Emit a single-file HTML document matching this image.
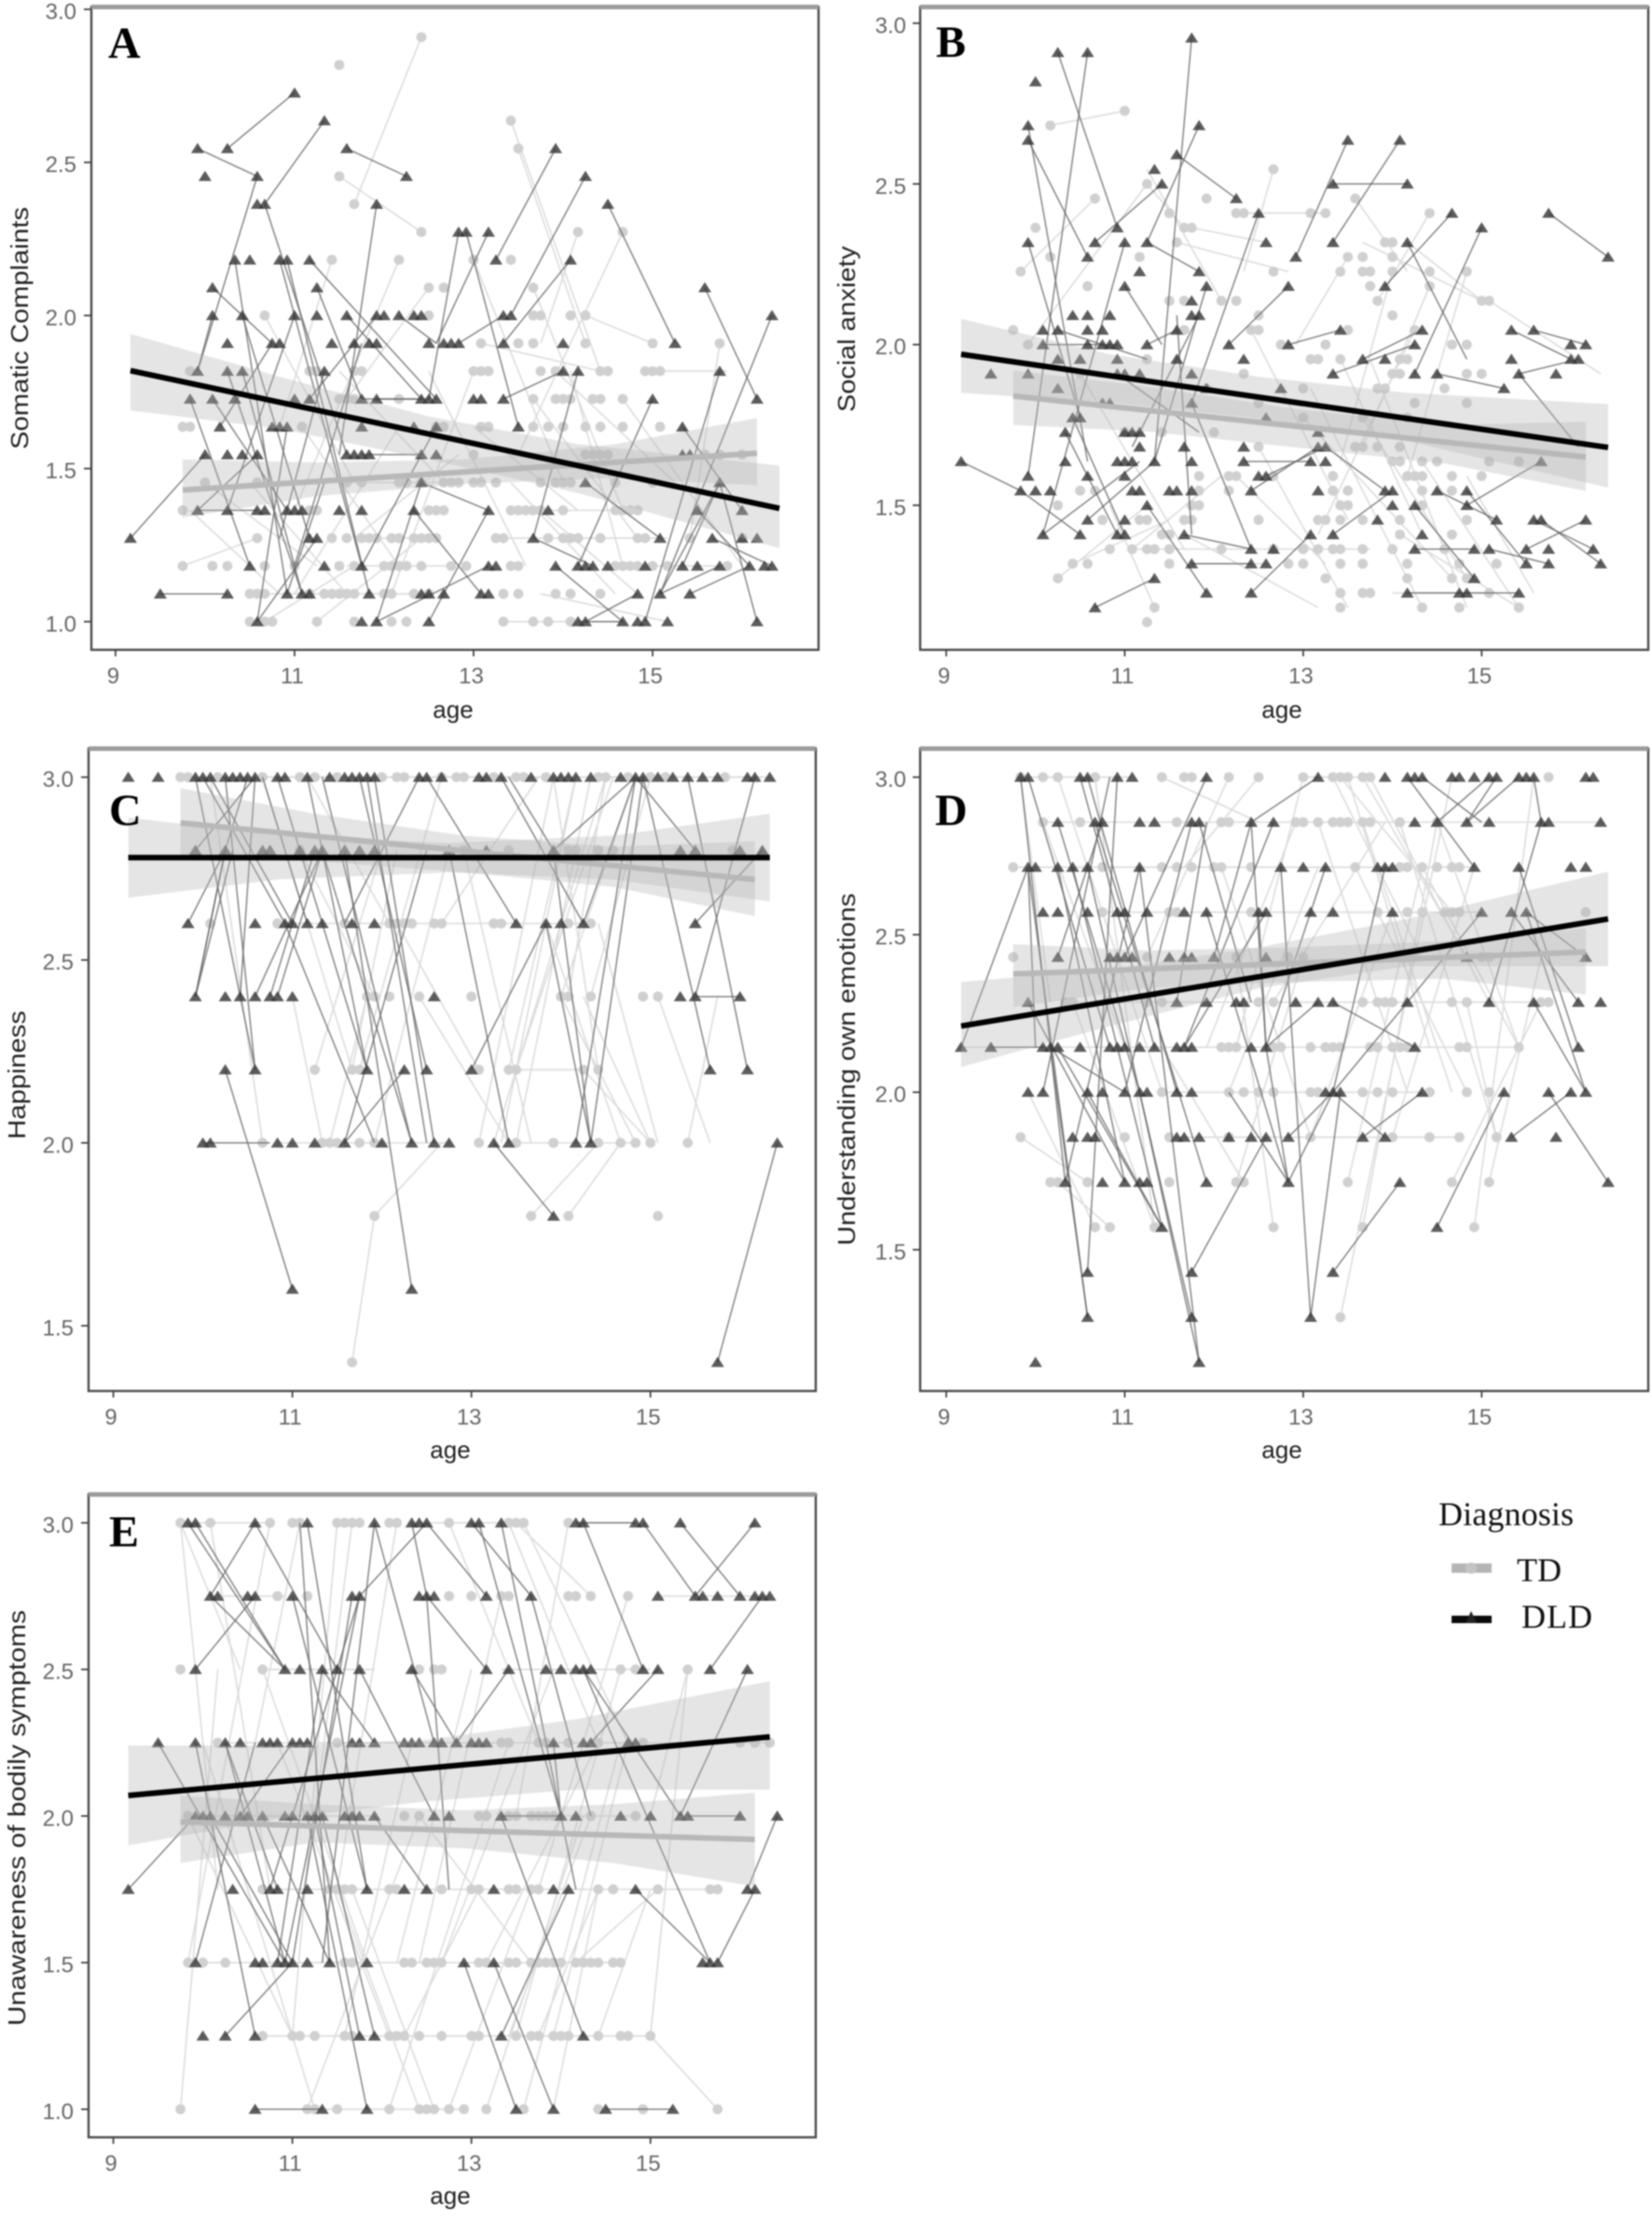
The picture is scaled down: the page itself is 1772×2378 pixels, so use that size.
<!DOCTYPE html>
<html lang="en">
<head>
<meta charset="utf-8">
<title>Emotion scores by age and diagnosis</title>
<style>
html,body{margin:0;padding:0;background:#fff;width:1772px;height:2378px;overflow:hidden}
#figure{position:absolute;left:0;top:0;width:1772px;height:2378px;filter:blur(0.85px)}
text{font-family:"Liberation Sans",sans-serif}
.serif{font-family:"Liberation Serif",serif}
</style>
</head>
<body>
<svg id="figure" xmlns="http://www.w3.org/2000/svg" width="1772" height="2378" viewBox="0 0 1772 2378">
  <g id="panels"></g>
  <g>
    <text class="serif" x="1543" y="1636" font-size="36" fill="#111" textLength="145">Diagnosis</text>
    <rect x="1557" y="1677" width="43" height="10" fill="#b5b5b5"></rect>
    <circle cx="1578" cy="1682" r="6" fill="#c4c4c4"></circle>
    <text class="serif" x="1627" y="1696" font-size="36" fill="#111" textLength="48">TD</text>
    <rect x="1557" y="1733" width="43" height="8" fill="#0a0a0a"></rect>
    <polygon points="1578,1728 1584,1741 1572,1741" fill="#222"></polygon>
    <text class="serif" x="1632" y="1746" font-size="36" fill="#111" textLength="76">DLD</text>
  </g>
</svg>
<script>
// Ages are stored in months, scores as level index k where score = 1 + k * step.
const xTickYears = [9, 11, 13, 15];
const yTicksFull = [1.0, 1.5, 2.0, 2.5, 3.0];
const yTicksShort = [1.5, 2.0, 2.5, 3.0];

/* ---------- Panel A ---------- */
const aDldRows = [[19,[132]],[18,[136]],[17,[119,123,139,167]],[16,[120,127,147,171]],[15,[127,128,143,174]],[14,[154,155,158]],[13,[124,126,130,131,134,159,169]],[12,[121,135,187]],[11,[121,125,132,135,139,143,144,146,148,149,160,161,196]],[10,[123,129,130,137,140,142,143,150,152,153,154,160,168,183]],[9,[119,123,125,136,168,170,189]],[8,[118,121,124,132,134,141,143,149,150,151,156,157,160,180,194]],[7,[122,129,130,131,141,148,151,162,184]],[6,[120,123,125,127,139,140,141,142,149,151,184,185]],[5,[149,171,189]],[4,[119,123,127,128,131,132,133,138,141,148,158,166,186,192]],[3,[110,134,135,164,181,188,192,194]],[2,[126,136,141,158,159,167,170,171,172,174,179,184,186,189,193,195,196]],[1,[114,123,131,133,134,142,149,150,152,157,158,178,181,185]],[0,[127,141,143,150,170,171,176,178,179,182,194]]];
const aTdRows = [[21,[149]],[20,[138]],[18,[161]],[17,[162]],[16,[138]],[15,[140]],[14,[149,170,176]],[13,[137,146,156,161]],[12,[150,152,164]],[11,[128,150,164,165,169,171]],[10,[157,162,164,171,180,189]],[9,[118,134,135,140,141,156,157,158,165,167,173,174,179,180,181]],[8,[138,139,140,146,164,167,168,169,172,173,176]],[7,[117,118,133,151,152,157,158,164,166,168,171,173,176,181]],[6,[156,171,172,173,174,187,189,192]],[5,[120,127,139,141,146,147,149,152,153,154,156,157,159,165,167,168,169,175,180]],[4,[117,134,135,150,151,152,161,162,163,164,165,168,175,176,177,178]],[3,[127,137,139,141,142,143,145,146,148,149,150,151,159,160,166,168,169,170,173,178,179,185,192]],[2,[117,121,123,128,132,138,140,144,145,146,147,149,153,155,161,162,175,176,177,178,180,182,190]],[1,[126,127,128,134,136,137,138,139,140,144,145,148,150,160,162,167,169,173]],[0,[126,128,129,135,140,145,147,160,164,166,169]]];
const aDldLinks = [[110,3,120,6],[114,1,123,1],[119,17,127,16],[123,17,132,19],[128,15,136,18],[139,17,147,16],[127,16,119,9],[128,15,139,6],[143,15,138,6],[124,13,131,1],[130,13,141,2],[131,13,142,1],[134,13,151,8],[121,12,129,10],[135,12,141,8],[119,9,121,11],[125,11,134,3],[132,11,123,4],[139,11,149,8],[143,11,134,8],[146,11,151,10],[154,14,150,8],[155,14,162,7],[158,14,151,10],[159,13,167,17],[161,11,171,16],[160,10,169,13],[154,10,160,11],[174,15,183,10],[187,12,194,8],[196,11,181,1],[180,8,170,2],[160,8,168,9],[189,9,179,0],[189,5,181,1],[184,7,192,4],[171,5,181,3],[164,3,172,2],[167,2,176,0],[170,9,164,3],[158,4,149,5],[149,5,143,0],[148,4,157,1],[118,8,126,2],[125,9,133,1],[121,8,131,4],[131,7,127,0],[136,9,130,3],[122,7,129,10],[123,9,133,1],[143,8,150,8],[141,8,149,8],[141,6,149,6],[119,4,127,4],[119,4,127,6],[141,2,151,7],[132,2,141,10],[143,0,158,2],[150,0,158,4],[170,0,176,0],[178,1,171,0],[181,1,189,2],[185,1,193,2],[184,2,189,5],[186,4,193,2],[188,3,196,2],[194,0,189,5],[127,0,135,3],[131,1,136,5]];
const aTdLinks = [[149,21,140,15],[138,16,149,14],[162,17,171,10],[161,18,173,9],[146,13,132,4],[150,12,139,8],[137,13,130,7],[156,13,168,5],[164,12,176,4],[171,11,180,10],[128,11,140,5],[176,14,162,6],[170,14,165,10],[189,10,185,3],[117,2,127,3],[118,4,130,1],[128,0,140,2],[135,0,149,3],[145,1,156,9],[160,0,176,0],[180,9,190,9],[157,10,173,9],[169,9,176,2],[175,2,190,2],[160,3,182,3],[165,1,182,0],[138,9,152,5],[150,9,163,2],[164,8,178,3],[146,7,132,1],[133,7,146,2],[126,5,139,1],[165,4,178,1],[156,7,170,4],[176,8,192,2],[161,5,175,1],[140,3,154,6],[120,5,135,2],[167,9,183,5],[165,4,178,4],[141,3,151,3],[139,2,153,2],[126,1,150,1],[179,9,181,9],[139,5,154,5]];
const aBandAgesDld = [110,130,150,170,197];
const aBandLoDld = [1.69,1.63,1.53,1.42,1.24];
const aBandHiDld = [1.94,1.80,1.67,1.58,1.51];
const aBandAgesTd = [117,135,155,175,194];
const aBandLoTd = [1.34,1.41,1.45,1.47,1.445];
const aBandHiTd = [1.53,1.52,1.53,1.58,1.665];
const aTrendDld = [110,1.82,197,1.37];
const aTrendTd = [117,1.43,194,1.55];

/* ---------- Panel B ---------- */
const bDldRows = [[43,[141]],[42,[123,127]],[40,[120]],[37,[119,142]],[36,[119,162,169]],[35,[139]],[34,[136]],[33,[137,160,170]],[32,[147]],[31,[150,176,189]],[30,[131,180]],[29,[119,128,132,135,151,160,170]],[28,[127,155,197]],[27,[134,142]],[26,[132,143,154,167]],[25,[141]],[24,[125,127,130,141,142]],[23,[121,123,127,129,139,161,172,184,187]],[22,[121,127,129,130,131,135,146,154,171,192,194]],[21,[123,126,131,139,148,164,167,184,192,193]],[20,[114,119,131,132,134,141,160,171,174,185,190]],[19,[123,143,153,183]],[18,[129,130,141]],[17,[125,126,151]],[16,[124,132,133,134,158]],[15,[134,140,148,158,159]],[14,[110,124,131,132,133,136,141,148,157,159,188]],[13,[119,127,132,150,151]],[12,[118,120,122,133,134,138,139,141,149,158,167,168,174,178]],[11,[135,168,171,178]],[10,[127,132,166,182,187,188,194]],[9,[121,126,131,132,140,157,160,172]],[8,[149,152,171,179,181,186,189,195]],[7,[141,149,151,186,189,196]],[6,[136,179]],[5,[143,149,170,177,178,185]],[4,[128]]];
const bTdRows = [[38,[132]],[37,[122]],[33,[135]],[34,[152]],[32,[128,143,163]],[31,[138,147,148,157,159,173]],[30,[120,140,141]],[29,[139,167,168]],[28,[122,134,162,164,168]],[27,[118,152,161,164,165,168,173,178]],[26,[127,165,173]],[25,[138,140,145,147,166,180,181]],[24,[150,168]],[23,[117,140,149,150,162,171]],[22,[119,153,159,176,178]],[21,[135,157,158,161,169,170]],[20,[126,148,168,169,178,180]],[19,[143,156,166,167,175]],[18,[150,171,178]],[17,[156,164,170]],[16,[132,137,144]],[15,[150,163,164,166,169]],[14,[168,169,172,174,181,185]],[13,[142,146,147,152,160,170,171,172,176,180]],[12,[126,128,142,146,160,162,172,176]],[11,[123,141,142,161,162,172]],[10,[129,134,135,140,141,150,158,159,161,164,169,178]],[9,[137,138,169,176]],[8,[130,133,135,136,138,145,152,156,158,160,161,164,168,175]],[7,[125,127,138,154,156,161,164,170,177,182]],[6,[123,159,170,176,178]],[5,[161,164,165,181]],[4,[136,161,172,177,185]],[3,[135]]];
const bDldLinks = [[123,42,131,30],[127,42,119,13],[141,43,136,14],[142,37,135,29],[119,37,127,14],[119,36,127,28],[139,35,147,32],[137,33,128,29],[162,36,155,28],[169,36,160,29],[160,33,170,33],[150,31,141,18],[176,31,167,26],[189,31,197,28],[180,30,171,20],[170,29,178,21],[132,29,121,9],[135,29,142,27],[119,29,126,17],[132,26,137,22],[143,26,136,14],[154,26,146,22],[123,23,135,21],[121,22,131,22],[135,22,139,23],[154,22,161,23],[160,20,171,22],[164,21,172,23],[174,20,183,19],[184,23,192,21],[187,23,194,22],[185,20,193,21],[185,20,193,15],[110,14,118,12],[118,12,126,9],[125,17,132,9],[124,16,131,9],[127,10,136,14],[141,7,149,7],[140,9,149,8],[143,5,135,11],[149,5,157,9],[141,18,149,8],[149,12,158,15],[151,13,159,15],[159,15,167,12],[160,9,168,12],[171,11,179,6],[171,8,179,8],[170,5,185,5],[178,11,188,14],[174,12,182,10],[186,8,194,10],[178,12,186,7],[181,8,189,7],[187,10,195,8],[188,10,196,7],[128,4,136,6],[148,14,157,14],[121,9,134,14],[139,24,141,9],[142,24,133,15],[131,20,142,16]];
const bTdLinks = [[122,37,132,38],[118,27,128,32],[135,33,140,30],[141,30,151,29],[152,34,148,27],[147,31,159,31],[163,32,170,27],[173,31,166,25],[180,25,164,29],[170,29,180,25],[162,28,155,22],[145,25,135,34],[139,29,154,27],[119,22,135,33],[126,20,140,8],[168,27,161,14],[173,26,164,15],[178,27,170,13],[171,23,158,9],[181,25,196,20],[161,21,172,9],[150,15,162,4],[125,7,138,10],[123,6,135,11],[136,4,130,11],[157,19,172,4],[156,17,176,6],[165,21,178,4],[169,9,185,4],[140,9,158,4],[147,13,159,7],[172,14,185,4],[164,17,178,6],[149,23,162,10],[133,8,145,13],[178,13,187,5],[141,7,151,7],[133,8,165,8],[168,5,181,5]];
const bBandAgesDld = [110,130,150,170,197];
const bBandLoDld = [1.85,1.82,1.77,1.70,1.555];
const bBandHiDld = [2.08,1.97,1.90,1.85,1.815];
const bBandAgesTd = [117,135,155,175,194];
const bBandLoTd = [1.75,1.73,1.68,1.63,1.545];
const bBandHiTd = [1.92,1.87,1.80,1.75,1.76];
const bTrendDld = [110,1.97,197,1.68];
const bTrendTd = [117,1.84,194,1.65];

/* ---------- Panel C ---------- */
const cDldRows = [[10,[110,114,119,120,121,123,124,125,126,127,130,131,134,137,139,140,141,142,143,149,150,152,157,158,160,164,167,168,169,170,172,176,178,179,181,183,185,187,189,193,194,196]],[9,[119,123,128,129,133,135,136,139,141,143,153,158,167,184,186,192,195]],[8,[118,127,131,132,134,136,140,143,162,166,168,171,186]],[7,[119,123,125,127,129,130,132,151,184,186,192]],[6,[123,127,142,147,150,156,188,193]],[5,[120,121,130,132,135,139,144,148,151,153,159,161,170,172,197]],[4,[167]],[3,[132,148]],[2,[189]]];
const cTdRows = [[10,[117,118,122,128,133,135,138,144,146,147,152,154,155,159,162,163,166,173,174,177,180,182,190]],[9,[133,155,161,169,170,173,175,191]],[8,[121,130,139,145,146,147,148,151,152,159,160,169,172]],[7,[142,143,145,149,156,168,169,172,179,181]],[6,[135,140,141,157,161,162,171,173]],[5,[128,136,137,138,141,143,157,162,167,173,176,178,180,185]],[4,[143,164,169,181]],[2,[140]]];
const cDldLinks = [[119,10,127,6],[123,9,119,7],[120,10,131,8],[121,10,132,8],[127,10,119,9],[126,10,123,9],[125,7,127,10],[127,7,136,9],[130,7,136,9],[129,7,135,9],[119,7,124,9],[123,6,132,3],[130,10,142,6],[134,10,142,6],[136,9,148,5],[139,9,148,3],[141,10,150,6],[143,10,151,5],[139,5,147,6],[149,10,139,8],[150,10,162,8],[153,9,161,5],[156,6,166,8],[159,5,167,4],[160,10,171,8],[161,10,167,9],[167,9,172,5],[166,8,172,5],[170,5,178,10],[172,5,179,10],[171,8,178,10],[167,9,178,10],[178,10,186,9],[179,10,188,6],[185,10,193,6],[186,7,192,7],[186,7,194,10],[186,8,195,9],[189,2,197,5],[120,5,129,5],[118,8,123,9],[119,7,123,9],[123,10,127,6],[131,8,143,5],[134,8,128,10],[136,10,148,5],[142,10,150,5],[150,9,139,5]];
const cTdLinks = [[140,2,143,4],[143,4,152,5],[164,4,173,5],[169,4,176,5],[185,5,189,7],[162,6,171,6],[171,6,180,5],[157,5,167,10],[162,5,172,10],[160,5,170,10],[159,5,174,10],[128,5,121,10],[136,5,132,7],[137,5,142,7],[140,6,146,9],[141,6,152,10],[135,6,144,9],[143,5,153,9],[161,6,170,10],[162,6,175,10],[145,8,134,10],[152,8,165,10],[168,7,178,10],[169,7,174,10],[172,7,180,10],[181,7,188,5],[173,6,167,10],[157,6,146,8],[176,5,166,8],[178,5,168,7],[180,5,171,7],[133,9,143,7],[173,8,181,5],[149,7,161,5],[128,10,140,6],[155,9,164,5],[117,10,196,10],[118,10,195,10],[119,10,190,10],[130,5,153,5],[162,5,178,5],[130,8,172,8]];
const cBandAgesDld = [110,130,153,175,196];
const cBandLoDld = [2.67,2.72,2.74,2.72,2.66];
const cBandHiDld = [2.89,2.84,2.82,2.84,2.90];
const cBandAgesTd = [117,135,155,175,194];
const cBandLoTd = [2.785,2.77,2.74,2.70,2.62];
const cBandHiTd = [2.97,2.90,2.84,2.81,2.825];
const cTrendDld = [110,2.78,196,2.78];
const cTrendTd = [117,2.875,194,2.72];

/* ---------- Panel D ---------- */
const dDldRows = [[14,[118,119,126,127,131,133,143,158,167,170,171,172,176,177,179,181,182,185,186,187,194,195]],[13,[123,128,129,134,136,141,142,149,152,171,174,178,181,188,189,196]],[12,[119,120,123,125,127,134,153,156,159,166,167,168,179,185,192,194]],[11,[121,123,127,131,132,135,140,143,150,151,157,160,168,180,184,186]],[10,[123,130,131,132,133,138,140,141,144,151,178,194]],[9,[119,139,143,147,148,155,158,160,170,181,187,193,196]],[8,[110,114,121,122,123,126,130,131,132,134,136,139,140,141,149,151,171,193]],[7,[119,121,127,129,132,134,135,139,141,159,160,161,172,183,189,192,194]],[6,[125,127,128,139,140,142,146,149,151,154,164,167,184,190]],[5,[124,129,132,134,135,143,154,169,197]],[4,[137,174]],[3,[127,141,160]],[2,[127,141,157]],[1,[120,142]]];
const dTdRows = [[14,[118,121,123,128,137,140,141,146,150,156,160,161,162,164,165,189]],[13,[121,126,139,145,146,155,156,158,160,161,162,164,165,169,174]],[12,[117,129,137,139,141,144,145,149,163,169,170,172,174,176,177]],[11,[129,138,139,149,166,170,172,175,176,177,194]],[10,[117,135,147,154,156,170,171,180,181]],[9,[124,125,135,137,150,152,164,166,167,168,176,178,188,189]],[8,[145,146,147,152,153,157,159,160,161,165,166,168,169,170,177,178,185]],[7,[137,146,148,150,152,157,158,164,166,168,173,178,181]],[6,[118,132,138,146,157,168,173,177,182]],[5,[122,123,127,138,147,148,162,176,181]],[4,[128,130,136,152,164,179]],[2,[161]]];
const dDldLinks = [[110,8,119,12],[114,8,121,8],[119,14,130,8],[123,13,134,7],[126,14,136,8],[127,14,139,7],[131,14,127,3],[119,12,127,2],[123,12,132,5],[125,12,137,4],[127,12,141,2],[134,12,142,1],[128,13,143,5],[129,13,123,10],[141,13,132,7],[142,13,149,9],[143,14,132,10],[149,13,151,8],[149,13,144,10],[152,13,140,8],[153,12,157,2],[143,11,154,5],[150,11,151,8],[158,14,149,13],[159,12,151,8],[170,14,179,12],[172,14,180,13],[181,14,174,13],[182,14,178,13],[185,14,178,13],[187,14,188,13],[185,12,193,8],[184,11,193,9],[186,11,194,7],[188,13,181,9],[194,10,186,11],[187,9,194,7],[183,7,174,4],[189,7,197,5],[184,6,192,7],[160,9,171,8],[160,7,167,6],[164,6,172,7],[167,12,160,7],[161,7,157,2],[160,3,169,5],[141,3,151,6],[154,5,160,7],[154,6,160,7],[158,9,151,8],[151,8,154,5],[154,5,146,7],[170,9,180,11],[119,9,132,5],[118,14,124,5],[122,8,127,2],[123,8,137,4],[127,7,137,4],[132,7,122,8],[134,7,142,1],[160,7,170,9],[121,7,130,14],[124,5,134,12],[120,8,119,12],[139,9,143,13],[140,8,151,11]];
const dTdLinks = [[118,14,122,9],[121,13,132,8],[123,14,137,7],[128,14,136,4],[137,14,150,13],[146,14,135,10],[150,14,140,12],[156,14,147,8],[160,14,172,10],[161,14,176,11],[162,14,173,8],[164,14,178,10],[165,14,181,9],[155,13,143,8],[158,13,170,7],[164,13,176,7],[169,13,182,6],[174,13,185,8],[145,12,157,6],[163,12,178,7],[172,12,185,8],[161,2,176,14],[164,4,174,13],[179,4,187,14],[152,4,147,10],[136,4,125,9],[128,4,119,7],[130,4,123,5],[162,5,172,12],[176,5,188,9],[181,5,188,10],[168,6,179,12],[147,5,156,10],[157,6,168,11],[118,6,127,5],[146,7,158,12],[182,6,178,9],[137,8,148,5],[152,9,167,13],[118,14,133,14],[156,14,165,14],[121,13,196,13],[117,12,179,12],[129,11,180,11],[124,9,189,9],[110,8,185,8],[137,7,172,7],[138,6,177,6]];
const dBandAgesDld = [110,130,150,170,197];
const dBandLoDld = [2.08,2.21,2.33,2.40,2.40];
const dBandHiDld = [2.35,2.39,2.46,2.55,2.70];
const dBandAgesTd = [117,135,155,175,194];
const dBandLoTd = [2.27,2.33,2.35,2.36,2.31];
const dBandHiTd = [2.47,2.45,2.46,2.48,2.52];
const dTrendDld = [110,2.21,197,2.55];
const dTrendTd = [117,2.375,194,2.445];

/* ---------- Panel E ---------- */
const eDldRows = [[8,[118,119,127,134,143,148,149,150,156,157,160,170,171,178,179,184,194]],[7,[121,122,126,127,132,140,141,149,150,151,158,164,181,186,187,189,192,194,195,196]],[6,[119,131,133,136,138,141,148,158,161,166,168,170,171,172,179,181,188,193]],[5,[114,119,123,125,128,129,130,132,133,134,140,141,143,147,148,149,151,152,154,156,157,158,167,171,172,177,178]],[4,[119,120,121,123,125,126,128,131,132,134,135,136,139,140,141,143,151,153,160,168,170,176,180,184,185,192,197]],[3,[110,124,129,130,134,142,147,150,159,167,169,178,193,194]],[2,[119,127,128,130,131,132,134,137,142,155,159,187,188,189]],[1,[120,123,127,141,143,160,171]],[0,[127,136,142,162,167,174,183]]];
const eTdRows = [[8,[117,121,129,132,133,138,139,140,141,145,146,153,161,162,163,169]],[7,[130,134,153,156,160,161,169,170,172,177]],[6,[117,128,149,151,152,176,178,185]],[5,[122,138,160,161,165,166,169,173,179,192,194,196]],[4,[118,147,149,157,158,161,162,164,165,166,167,172,178]],[3,[128,137,138,139,140,145,146,152,156,157,161,162,164,165,173,175,181,188,189]],[2,[118,120,123,139,140,147,148,150,151,152,157,158,161,162,164,165,166,167,168,170,171,172,173,175,176]],[1,[128,132,133,135,139,140,145,146,147,149,152,156,157,162,164,165,167,168,169,173,176,177,180]],[0,[117,134,135,138,145,149,150,151,153,155,158,163,173,179,189]]];
const eDldLinks = [[110,3,119,4],[114,5,131,2],[118,8,131,6],[119,8,131,6],[121,7,131,6],[127,7,119,6],[127,8,138,6],[134,8,142,3],[143,8,151,5],[143,8,136,2],[150,8,158,7],[150,8,141,7],[157,8,168,4],[160,8,170,3],[171,8,179,6],[179,8,186,7],[184,8,192,7],[194,8,186,7],[195,7,188,6],[193,6,184,4],[181,6,172,5],[171,6,184,4],[164,7,172,4],[158,6,150,7],[150,7,153,3],[161,6,154,5],[141,7,131,2],[140,7,132,2],[141,7,129,3],[141,6,151,4],[132,7,142,3],[123,5,131,2],[125,4,132,5],[119,5,127,1],[119,2,127,5],[123,1,132,2],[143,4,150,3],[134,4,142,0],[135,4,141,1],[136,4,143,1],[155,2,162,0],[159,2,167,0],[160,4,171,1],[160,1,169,3],[160,4,168,4],[167,5,168,4],[174,0,183,0],[127,0,136,0],[178,3,188,2],[171,6,188,2],[189,2,194,3],[197,4,193,3],[185,4,192,4],[170,8,178,8],[121,4,132,2],[127,8,121,7],[148,8,150,7],[156,8,164,7],[123,5,130,3],[137,2,133,8],[136,6,130,2],[128,4,137,2],[143,5,136,6],[148,6,154,5]];
const eTdLinks = [[117,8,122,3],[117,0,122,6],[121,8,129,3],[129,8,118,2],[133,8,127,5],[138,8,132,1],[140,8,135,4],[146,8,138,3],[153,8,165,5],[161,8,173,5],[162,8,172,7],[163,8,177,5],[169,8,162,4],[160,7,149,2],[177,7,165,3],[176,6,162,1],[185,6,180,4],[134,0,149,4],[145,0,161,5],[153,0,164,3],[158,0,171,4],[163,0,176,5],[173,1,180,3],[180,1,189,0],[180,1,185,6],[167,1,177,5],[165,1,173,3],[132,1,118,4],[135,0,120,5],[145,1,130,5],[149,0,138,3],[151,0,140,3],[152,2,167,6],[139,1,148,5],[146,2,156,6],[158,2,173,5],[164,2,149,4],[170,2,181,3],[125,6,117,8],[172,4,161,1],[128,6,142,2],[157,3,147,1],[173,3,167,0],[117,8,129,8],[148,8,163,8],[170,8,178,8],[121,7,131,7],[181,7,196,7],[128,6,143,6],[160,6,180,6],[122,5,196,5],[118,4,143,4],[160,4,178,4],[128,3,188,3],[118,2,176,2],[128,1,180,1],[134,0,155,0]];
const eBandAgesDld = [110,130,150,170,196];
const eBandLoDld = [1.90,1.99,2.05,2.09,2.09];
const eBandHiDld = [2.24,2.24,2.26,2.33,2.46];
const eBandAgesTd = [117,135,155,175,194];
const eBandLoTd = [1.84,1.91,1.89,1.84,1.76];
const eBandHiTd = [2.07,2.04,2.02,2.04,2.08];
const eTrendDld = [110,2.07,196,2.27];
const eTrendTd = [117,1.98,194,1.92];

const SVGNS = 'http://www.w3.org/2000/svg';
function mk(tag, parent, attrs) {
  const el = document.createElementNS(SVGNS, tag);
  for (const k in attrs) el.setAttribute(k, attrs[k]);
  parent.appendChild(el);
  return el;
}

function drawPanel(p) {
  const root = document.getElementById('panels');
  const g = mk('g', root, {});
  
  
  const xOf = m => p.x9 + (m / 12 - 9) * (p.x15 - p.x9) / 6;
  const yOf = v => p.yTop + (p.vTop - v) * (p.yBot - p.yTop) / (p.vTop - p.vBot);
  const val = k => 1 + k * p.step;

  // TD subject lines and points
  const tdL = mk('g', g, {stroke: '#dcdcdc', 'stroke-width': 1.6, fill: 'none'});
  
  
  p.tdLinks.forEach(l => {
    const line = mk('line', tdL, {x1: xOf(l[0]), y1: yOf(val(l[1])), x2: xOf(l[2]), y2: yOf(val(l[3]))});
    
    
  });
  const tdP = mk('g', g, {fill: '#d0d0d0'});
  
  
  p.tdRows.forEach(r => r[1].forEach(m => {
    const c = mk('circle', tdP, {cx: xOf(m), cy: yOf(val(r[0])), r: 5.4});
    
    
  }));

  // DLD subject lines and points
  const dL = mk('g', g, {stroke: '#666', 'stroke-width': 1.5, fill: 'none', 'stroke-opacity': 0.8});
  
  
  p.dldLinks.forEach(l => {
    const line = mk('line', dL, {x1: xOf(l[0]), y1: yOf(val(l[1])), x2: xOf(l[2]), y2: yOf(val(l[3]))});
    
    
  });
  const dP = mk('g', g, {fill: '#333', 'fill-opacity': 0.8});
  
  
  p.dldRows.forEach(r => r[1].forEach(m => {
    const x = xOf(m), y = yOf(val(r[0]));
    const t = mk('polygon', dP, {points: x + ',' + (y - 6) + ' ' + (x + 7) + ',' + (y + 5) + ' ' + (x - 7) + ',' + (y + 5)});
    
    
  }));

  // Confidence bands and trend lines
  const band = (ages, lo, hi, name) => {
    const up = ages.map((m, i) => xOf(m) + ',' + yOf(hi[i]));
    const dn = ages.map((m, i) => xOf(m) + ',' + yOf(lo[i])).reverse();
    const b = mk('polygon', g, {points: up.concat(dn).join(' '), fill: '#b4b4b4', 'fill-opacity': 0.34});
    
    
  };
  band(p.bandAgesDld, p.bandLoDld, p.bandHiDld, 'dld-confidence-band');
  band(p.bandAgesTd, p.bandLoTd, p.bandHiTd, 'td-confidence-band');
  const tTd = mk('line', g, {x1: xOf(p.trendTd[0]), y1: yOf(p.trendTd[1]), x2: xOf(p.trendTd[2]), y2: yOf(p.trendTd[3]), stroke: '#b8b8b8', 'stroke-width': 6});
  
  
  const tD = mk('line', g, {x1: xOf(p.trendDld[0]), y1: yOf(p.trendDld[1]), x2: xOf(p.trendDld[2]), y2: yOf(p.trendDld[3]), stroke: '#000', 'stroke-width': 6});
  
  

  // Frame
  const frame = mk('rect', g, {x: p.left, y: p.top, width: p.right - p.left, height: p.bottom - p.top, fill: 'none', stroke: '#4a4a4a', 'stroke-width': 2.4});
  
  
  const topBar = mk('line', g, {x1: p.left, x2: p.right, y1: p.top, y2: p.top, stroke: '#9c9c9c', 'stroke-width': 5});
  
  

  // X axis
  xTickYears.forEach(a => {
    const x = xOf(a * 12);
    const tk = mk('line', g, {x1: x, x2: x, y1: p.bottom, y2: p.bottom + 7, stroke: '#444', 'stroke-width': 1.8});
    
    
    const lb = mk('text', g, {x: x - 2.5, y: p.xLabelY, 'font-size': 24, fill: '#666', 'text-anchor': 'middle'});
    
    
    lb.textContent = String(a);
  });
  const xt = mk('text', g, {x: p.xTitleX, y: p.xTitleY, 'font-size': 26, fill: '#222', 'text-anchor': 'middle'});
  
  
  xt.textContent = 'age';

  // Y axis
  p.yTicks.forEach(v => {
    const y = yOf(v);
    const tk = mk('line', g, {x1: p.left - 8, x2: p.left, y1: y, y2: y, stroke: '#444', 'stroke-width': 1.8});
    
    
    const lb = mk('text', g, {x: p.yLabelX, y: y + 10.5, 'font-size': 24, fill: '#666', 'text-anchor': 'end'});
    
    
    lb.textContent = v.toFixed(1);
  });
  const yt = mk('text', g, {
    transform: 'translate(' + p.yTitleX + ',' + ((p.yTitleA + p.yTitleB) / 2) + ') rotate(-90)',
    'font-size': 26, fill: '#222', 'text-anchor': 'middle',
    textLength: p.yTitleB - p.yTitleA, lengthAdjust: 'spacingAndGlyphs'
  });
  
  
  yt.textContent = p.title;

  // Panel letter
  const let_ = mk('text', g, {x: p.letterX, y: p.letterY, 'font-size': 48, 'font-weight': 700, fill: '#000', class: 'serif'});
  
  
  let_.textContent = p.letter;
}

drawPanel({letter:'A', title:'Somatic Complaints', step:1/11, left:98, right:878, top:7.5, bottom:697, x9:123.9, x15:700, vTop:3, yTop:10, vBot:1, yBot:666.8, yTicks:yTicksFull, xLabelY:733, xTitleX:486, xTitleY:770, yLabelX:82, yTitleX:30, yTitleA:222, yTitleB:482, letterX:116, letterY:62, dldRows:aDldRows, tdRows:aTdRows, dldLinks:aDldLinks, tdLinks:aTdLinks, bandAgesDld:aBandAgesDld, bandLoDld:aBandLoDld, bandHiDld:aBandHiDld, bandAgesTd:aBandAgesTd, bandLoTd:aBandLoTd, bandHiTd:aBandHiTd, trendDld:aTrendDld, trendTd:aTrendTd});
drawPanel({letter:'B', title:'Social anxiety', step:1/22, left:987, right:1768, top:7.5, bottom:697, x9:1015, x15:1589.3, vTop:3, yTop:24.9, vBot:1.5, yBot:542, yTicks:yTicksShort, xLabelY:733, xTitleX:1375, xTitleY:770, yLabelX:972, yTitleX:917, yTitleA:264, yTitleB:442, letterX:1004, letterY:61, dldRows:bDldRows, tdRows:bTdRows, dldLinks:bDldLinks, tdLinks:bTdLinks, bandAgesDld:bBandAgesDld, bandLoDld:bBandLoDld, bandHiDld:bBandHiDld, bandAgesTd:bBandAgesTd, bandLoTd:bBandLoTd, bandHiTd:bBandHiTd, trendDld:bTrendDld, trendTd:bTrendTd});
drawPanel({letter:'C', title:'Happiness', step:1/5, left:95, right:875, top:803, bottom:1492, x9:121.6, x15:697.7, vTop:3, yTop:833.6, vBot:1.5, yBot:1422, yTicks:yTicksShort, xLabelY:1528, xTitleX:483, xTitleY:1564, yLabelX:79, yTitleX:27, yTitleA:1084, yTitleB:1222, letterX:117, letterY:885, dldRows:cDldRows, tdRows:cTdRows, dldLinks:cDldLinks, tdLinks:cTdLinks, bandAgesDld:cBandAgesDld, bandLoDld:cBandLoDld, bandHiDld:cBandHiDld, bandAgesTd:cBandAgesTd, bandLoTd:cBandLoTd, bandHiTd:cBandHiTd, trendDld:cTrendDld, trendTd:cTrendTd});
drawPanel({letter:'D', title:'Understanding own emotions', step:1/7, left:987, right:1768, top:803, bottom:1492, x9:1015, x15:1589.3, vTop:3, yTop:833.6, vBot:1.5, yBot:1340.5, yTicks:yTicksShort, xLabelY:1528, xTitleX:1375, xTitleY:1564, yLabelX:972, yTitleX:917, yTitleA:958, yTitleB:1336, letterX:1003, letterY:885, dldRows:dDldRows, tdRows:dTdRows, dldLinks:dDldLinks, tdLinks:dTdLinks, bandAgesDld:dBandAgesDld, bandLoDld:dBandLoDld, bandHiDld:dBandHiDld, bandAgesTd:dBandAgesTd, bandLoTd:dBandLoTd, bandHiTd:dBandHiTd, trendDld:dTrendDld, trendTd:dTrendTd});
drawPanel({letter:'E', title:'Unawareness of bodily symptoms', step:1/4, left:95, right:875, top:1603, bottom:2292.5, x9:121.6, x15:697.7, vTop:3, yTop:1633.4, vBot:1, yBot:2262.4, yTicks:yTicksFull, xLabelY:2328.5, xTitleX:483, xTitleY:2364, yLabelX:79, yTitleX:27, yTitleA:1727, yTitleB:2173, letterX:117, letterY:1659, dldRows:eDldRows, tdRows:eTdRows, dldLinks:eDldLinks, tdLinks:eTdLinks, bandAgesDld:eBandAgesDld, bandLoDld:eBandLoDld, bandHiDld:eBandHiDld, bandAgesTd:eBandAgesTd, bandLoTd:eBandLoTd, bandHiTd:eBandHiTd, trendDld:eTrendDld, trendTd:eTrendTd});
</script>
</body>
</html>
